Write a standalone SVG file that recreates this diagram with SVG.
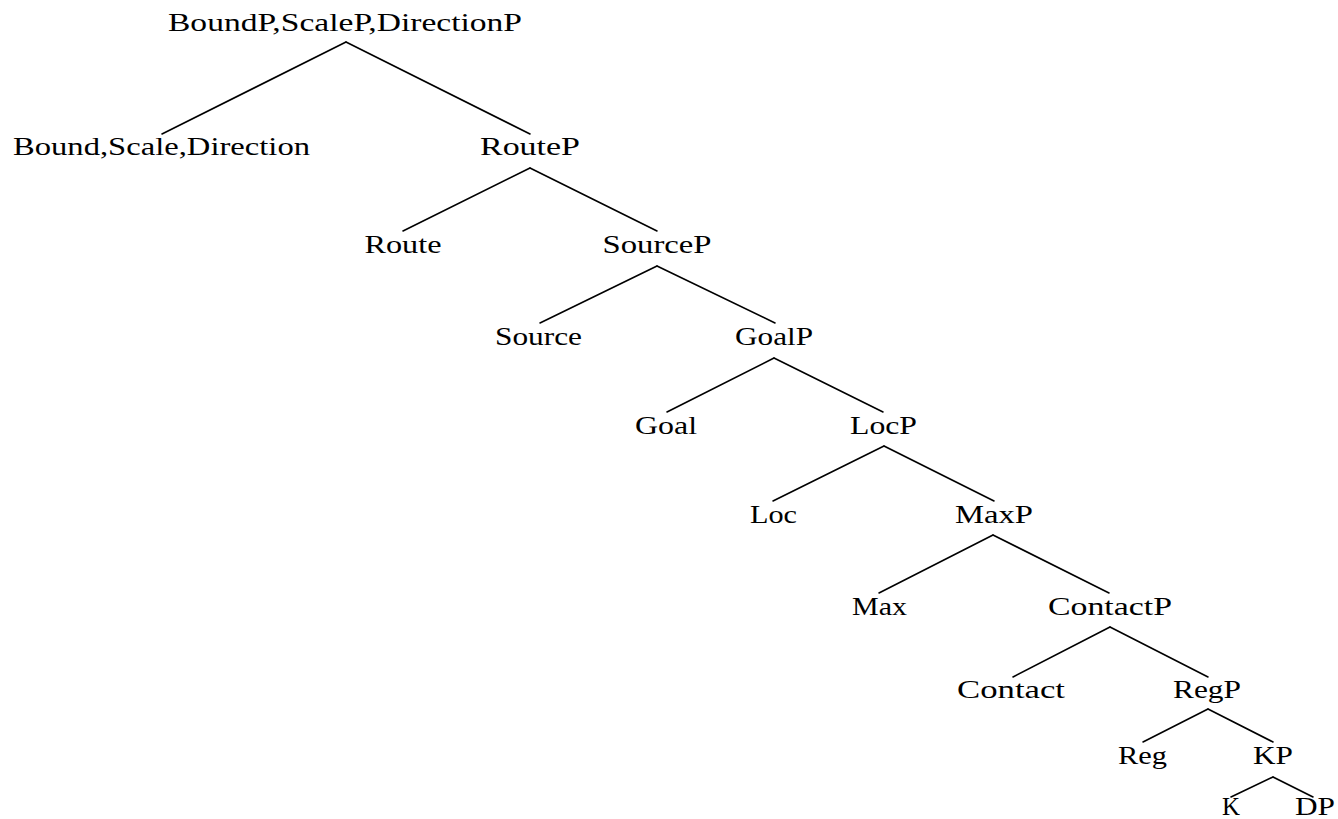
<svg xmlns="http://www.w3.org/2000/svg" width="1338" height="819" viewBox="0 0 1338 819">
<style>
text{font-family:"Liberation Serif","Times New Roman",serif;font-size:26px;fill:#000;text-anchor:middle}
.e line{stroke:#000;stroke-width:1.6;stroke-linecap:round}
</style>
<rect width="1338" height="819" fill="#fff"/>
<g class="e" id="connectors">
<line x1="346" y1="42" x2="162" y2="134"/>
<line x1="346" y1="42" x2="530" y2="134"/>
<line x1="530" y1="168" x2="403" y2="231"/>
<line x1="530" y1="168" x2="657" y2="231"/>
<line x1="657" y1="266" x2="540" y2="323"/>
<line x1="657" y1="266" x2="775" y2="323"/>
<line x1="774" y1="358" x2="667" y2="412"/>
<line x1="774" y1="358" x2="883" y2="412"/>
<line x1="884" y1="446" x2="773" y2="501"/>
<line x1="884" y1="446" x2="994" y2="501"/>
<line x1="993" y1="535" x2="879" y2="593"/>
<line x1="993" y1="535" x2="1109" y2="593"/>
<line x1="1110" y1="627" x2="1013" y2="677"/>
<line x1="1110" y1="627" x2="1208" y2="677"/>
<line x1="1208" y1="709" x2="1143" y2="742"/>
<line x1="1208" y1="709" x2="1273" y2="742"/>
<line x1="1273" y1="777" x2="1231" y2="797"/>
<line x1="1273" y1="777" x2="1313" y2="797"/>
</g>
<g id="n-root"><text x="345" y="31" textLength="354" lengthAdjust="spacingAndGlyphs">BoundP,ScaleP,DirectionP</text></g>
<g id="n-bound"><text x="161.5" y="155" textLength="297" lengthAdjust="spacingAndGlyphs">Bound,Scale,Direction</text></g>
<g id="n-routep"><text x="530" y="155" textLength="100" lengthAdjust="spacingAndGlyphs">RouteP</text></g>
<g id="n-route"><text x="403" y="253" textLength="77" lengthAdjust="spacingAndGlyphs">Route</text></g>
<g id="n-sourcep"><text x="657" y="253" textLength="109" lengthAdjust="spacingAndGlyphs">SourceP</text></g>
<g id="n-source"><text x="538.5" y="345" textLength="87" lengthAdjust="spacingAndGlyphs">Source</text></g>
<g id="n-goalp"><text x="774" y="345" textLength="78" lengthAdjust="spacingAndGlyphs">GoalP</text></g>
<g id="n-goal"><text x="666" y="434" textLength="62" lengthAdjust="spacingAndGlyphs">Goal</text></g>
<g id="n-locp"><text x="883.5" y="434" textLength="67" lengthAdjust="spacingAndGlyphs">LocP</text></g>
<g id="n-loc"><text x="773.5" y="523" textLength="47" lengthAdjust="spacingAndGlyphs">Loc</text></g>
<g id="n-maxp"><text x="994" y="523" textLength="78" lengthAdjust="spacingAndGlyphs">MaxP</text></g>
<g id="n-max"><text x="879.5" y="615" textLength="55" lengthAdjust="spacingAndGlyphs">Max</text></g>
<g id="n-contactp"><text x="1110" y="615" textLength="124" lengthAdjust="spacingAndGlyphs">ContactP</text></g>
<g id="n-contact"><text x="1011" y="698" textLength="108" lengthAdjust="spacingAndGlyphs">Contact</text></g>
<g id="n-regp"><text x="1207" y="698" textLength="68" lengthAdjust="spacingAndGlyphs">RegP</text></g>
<g id="n-reg"><text x="1142.5" y="764" textLength="49" lengthAdjust="spacingAndGlyphs">Reg</text></g>
<g id="n-kp"><text x="1273" y="764" textLength="40" lengthAdjust="spacingAndGlyphs">KP</text></g>
<g id="n-k"><text x="1231" y="815" textLength="18" lengthAdjust="spacingAndGlyphs">K</text></g>
<g id="n-dp"><text x="1315" y="815" textLength="40" lengthAdjust="spacingAndGlyphs">DP</text></g>
</svg>
